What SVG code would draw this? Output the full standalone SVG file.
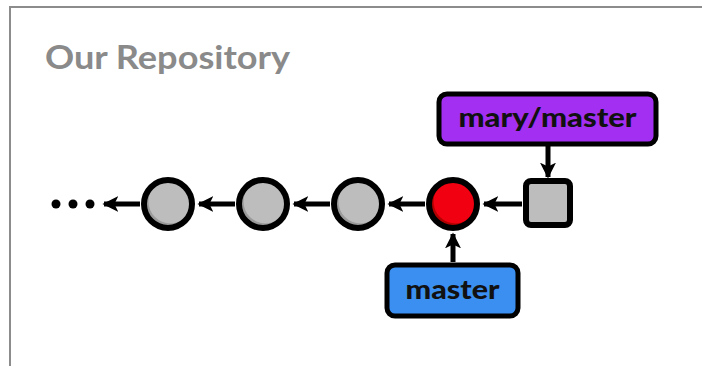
<svg xmlns="http://www.w3.org/2000/svg" width="702" height="366" viewBox="0 0 702 366">
<defs>
<style>
.frame{fill:none;stroke:#8c8c8c;stroke-width:2}
.title{font-family:"Lato","Noto Sans",sans-serif;font-weight:bold;font-size:32px;fill:#8a8a8a}
.ol{stroke:#000;stroke-width:6}
.edge{stroke:#000;stroke-width:5;fill:none;marker-end:url(#ah)}
.lbl{font-family:"Lato","Noto Sans",sans-serif;font-weight:900;font-size:26px;fill:#111;text-anchor:middle}
.box{stroke:#000;stroke-width:5}
</style>
<marker id="ah" viewBox="0 0 10 10" refX="9" refY="5" markerWidth="3.2" markerHeight="3.2" markerUnits="strokeWidth" orient="auto">
<path d="M0,0 L10,5 L0,10 L2.5,5 Z" fill="#000"/>
</marker>
<clipPath id="cc"><circle r="22"/></clipPath>
</defs>
<rect width="702" height="366" fill="#fff"/>
<path class="frame" d="M10,366 V7 H702"/>
<text class="title" x="45" y="69" textLength="245" lengthAdjust="spacingAndGlyphs">Our Repository</text>

<g id="connectors">
<line class="edge" x1="140" y1="204" x2="104" y2="204"/>
<line class="edge" x1="235" y1="204" x2="199" y2="204"/>
<line class="edge" x1="330" y1="204" x2="294" y2="204"/>
<line class="edge" x1="425" y1="204" x2="389" y2="204"/>
<line class="edge" x1="522" y1="204" x2="484" y2="204"/>
<line class="edge" x1="548" y1="146" x2="548" y2="177"/>
<line class="edge" x1="453" y1="262" x2="453" y2="234"/>
</g>

<g id="ellipsis">
<circle cx="56" cy="204" r="4.5" fill="#000"/>
<circle cx="73" cy="204" r="4.5" fill="#000"/>
<circle cx="90" cy="204" r="4.5" fill="#000"/>
</g>

<g id="c1" transform="translate(168,204)">
<circle r="24" fill="#9a9a9a"/>
<circle cx="2.5" cy="-2.5" r="22" fill="#bdbdbd" clip-path="url(#cc)"/>
<circle r="24" fill="none" class="ol"/>
</g>
<g id="c2" transform="translate(263,204)">
<circle r="24" fill="#9a9a9a"/>
<circle cx="2.5" cy="-2.5" r="22" fill="#bdbdbd" clip-path="url(#cc)"/>
<circle r="24" fill="none" class="ol"/>
</g>
<g id="c3" transform="translate(358,204)">
<circle r="24" fill="#9a9a9a"/>
<circle cx="2.5" cy="-2.5" r="22" fill="#bdbdbd" clip-path="url(#cc)"/>
<circle r="24" fill="none" class="ol"/>
</g>
<g id="c4" transform="translate(453,204)">
<circle r="24" fill="#b00000"/>
<circle cx="2.5" cy="-2.5" r="22" fill="#f00010" clip-path="url(#cc)"/>
<circle r="24" fill="none" class="ol"/>
</g>
<g id="c5">
<rect x="526" y="181" width="44" height="44" rx="5" fill="#bdbdbd" class="ol"/>
</g>

<g id="mary-master">
<rect class="box" x="439" y="94" width="217" height="50" rx="8" fill="#a22ff2"/>
<text class="lbl" x="547.5" y="127" textLength="178" lengthAdjust="spacingAndGlyphs">mary/master</text>
</g>
<g id="master">
<rect class="box" x="387" y="265" width="131" height="51" rx="8" fill="#3a8ff0"/>
<text class="lbl" x="452.5" y="299" textLength="94" lengthAdjust="spacingAndGlyphs">master</text>
</g>
</svg>
